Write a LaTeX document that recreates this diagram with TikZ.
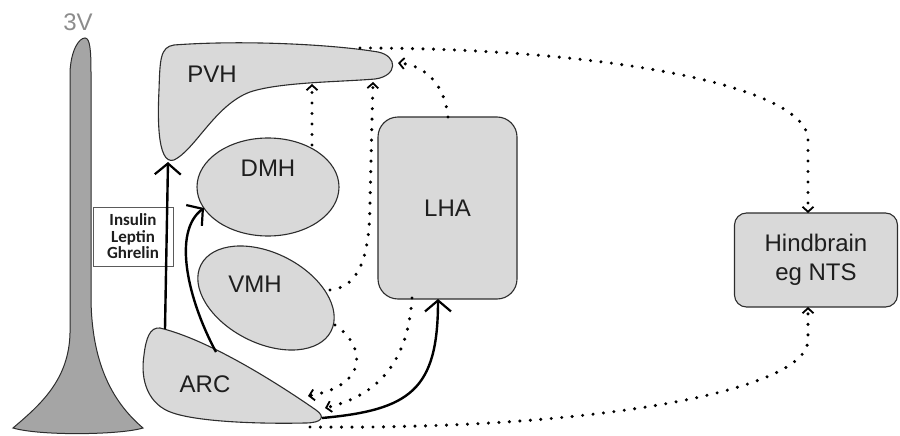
\documentclass[tikz,border=0pt]{standalone}
\usepackage{fontspec}
\setmainfont{Liberation Sans}
\newfontfamily\carlitofont{Carlito}
\usetikzlibrary{arrows.meta}
\definecolor{shapefill}{RGB}{217,217,217}
\definecolor{ventfill}{RGB}{165,165,165}
\definecolor{edgecol}{RGB}{45,45,45}
\definecolor{txtcol}{RGB}{30,30,30}
\definecolor{ventlabel}{RGB}{140,140,140}
\definecolor{boxcol}{RGB}{90,90,90}
\begin{document}
\begin{tikzpicture}[x=1pt,y=-1pt,
  region/.style={fill=shapefill,draw=edgecol,line width=1.1pt},
  lbl/.style={font=\fontsize{24}{29}\selectfont,text=txtcol,inner sep=0pt,align=center},
  solidarrow/.style={line width=2.4pt,draw=black,-{Straight Barb[length=11pt,width=26pt,line width=2.2pt]}},
  dotarrow/.style={line width=3.4pt,line cap=round,dash pattern=on 0pt off 10.5pt,-{Straight Barb[length=5pt,width=11pt,line width=1.8pt]}},
  dotline/.style={line width=3.4pt,line cap=round,dash pattern=on 0pt off 10.5pt}]
\path[use as bounding box] (0,0) rectangle (900,436);

% third ventricle
\draw[fill=ventfill,draw=edgecol,line width=1pt]
  (85,38) .. controls (79,38) and (71,50) .. (70,72) -- (70,333)
  .. controls (69,380) and (40,405) .. (13,428)
  .. controls (40,436) and (120,435) .. (143,428)
  .. controls (110,400) and (92,360) .. (91,300) -- (91,72)
  .. controls (91,50) and (90,38) .. (85,38) -- cycle;
\node[font=\fontsize{24}{28}\selectfont,text=ventlabel,inner sep=0pt] (v3) at (78,22) {3V};

% PVH
\draw[region] (174,45) .. controls (240,40) and (330,44) .. (378,52)
  .. controls (398,56) and (398,76) .. (375,79)
  .. controls (340,82) and (280,82) .. (250,92)
  .. controls (215,105) and (195,150) .. (174,160)
  .. controls (156,166) and (158,110) .. (159,90)
  .. controls (160,60) and (160,47) .. (174,45) -- cycle;
\node[lbl] (pvh) at (212,74) {PVH};

% DMH
\draw[region] (268,187) ellipse [x radius=71, y radius=49];
\node[lbl] (dmh) at (268,168) {DMH};

% VMH
\draw[region] (266,298) ellipse [x radius=73, y radius=45, rotate=-27];
\node[lbl] (vmh) at (255,284) {VMH};

% ARC
\draw[region] (160,328) .. controls (210,340) and (280,385) .. (316,410)
  .. controls (326,417) and (322,423) .. (305,423)
  .. controls (260,424) and (200,422) .. (173,413)
  .. controls (148,405) and (140,380) .. (144,355)
  .. controls (146,338) and (150,327) .. (160,328) -- cycle;
\node[lbl] (arc) at (205,384) {ARC};

% LHA
\node[region,lbl,rounded corners=20pt,minimum width=139pt,minimum height=182pt] (lha) at (447.5,208) {LHA};

% Hindbrain
\node[region,lbl,rounded corners=12pt,minimum width=163pt,minimum height=94pt] (hb) at (816,260) {Hindbrain\\eg NTS};

% hormones box
\node[draw=boxcol,line width=0.8pt,minimum width=80pt,minimum height=59pt,inner sep=0pt,align=center,
  text=txtcol,font=\carlitofont\bfseries\fontsize{17}{16.5}\selectfont] (horm) at (133,236.5) {Insulin\\Leptin\\Ghrelin};

% anchor points on the drawn shapes
\coordinate (arcA) at (165,329);
\coordinate (pvhB) at (168,162);
\coordinate (arcB) at (216,352);
\coordinate (dmhL) at (204,208);
\coordinate (arcT) at (322,418);
\coordinate (lhaB) at (438,299);
\coordinate (dmhT) at (312,145);
\coordinate (pvhD) at (312,84);
\coordinate (vmhR) at (330,290);
\coordinate (pvhE) at (373,82);
\coordinate (lhaT) at (448,117);
\coordinate (pvhTip) at (398,63);
\coordinate (pvhTop) at (360,48);
\coordinate (hbT) at (808,213);
\coordinate (arcBot) at (310,427);
\coordinate (hbB) at (808,307);
\coordinate (vmhBR) at (335,325);
\coordinate (arcC) at (308,396);
\coordinate (lhaBL) at (412,298);
\coordinate (arcTip) at (325,408);

% solid connectors
\draw[solidarrow] (arcA) -- (pvhB);
\draw[solidarrow] (arcB) .. controls (188,300) and (172,232) .. (dmhL);
\draw[solidarrow] (arcT) .. controls (410,410) and (438,390) .. (lhaB);

% dotted connectors
\draw[dotarrow] (dmhT) -- (pvhD);
\draw[dotarrow] (vmhR) .. controls (362,287) and (370,250) .. (370,200) -- (pvhE);
\draw[dotarrow] (lhaT) .. controls (445,85) and (425,65) .. (pvhTip);
\draw[dotarrow] (pvhTop) .. controls (600,48) and (808,85) .. (808,140) -- (hbT);
\draw[dotarrow] (arcBot) .. controls (600,430) and (808,390) .. (808,340) -- (hbB);
\draw[dotarrow] (vmhBR) .. controls (365,345) and (370,385) .. (arcC);
\draw[dotarrow] (lhaBL) .. controls (408,360) and (380,395) .. (arcTip);
\end{tikzpicture}
\end{document}
